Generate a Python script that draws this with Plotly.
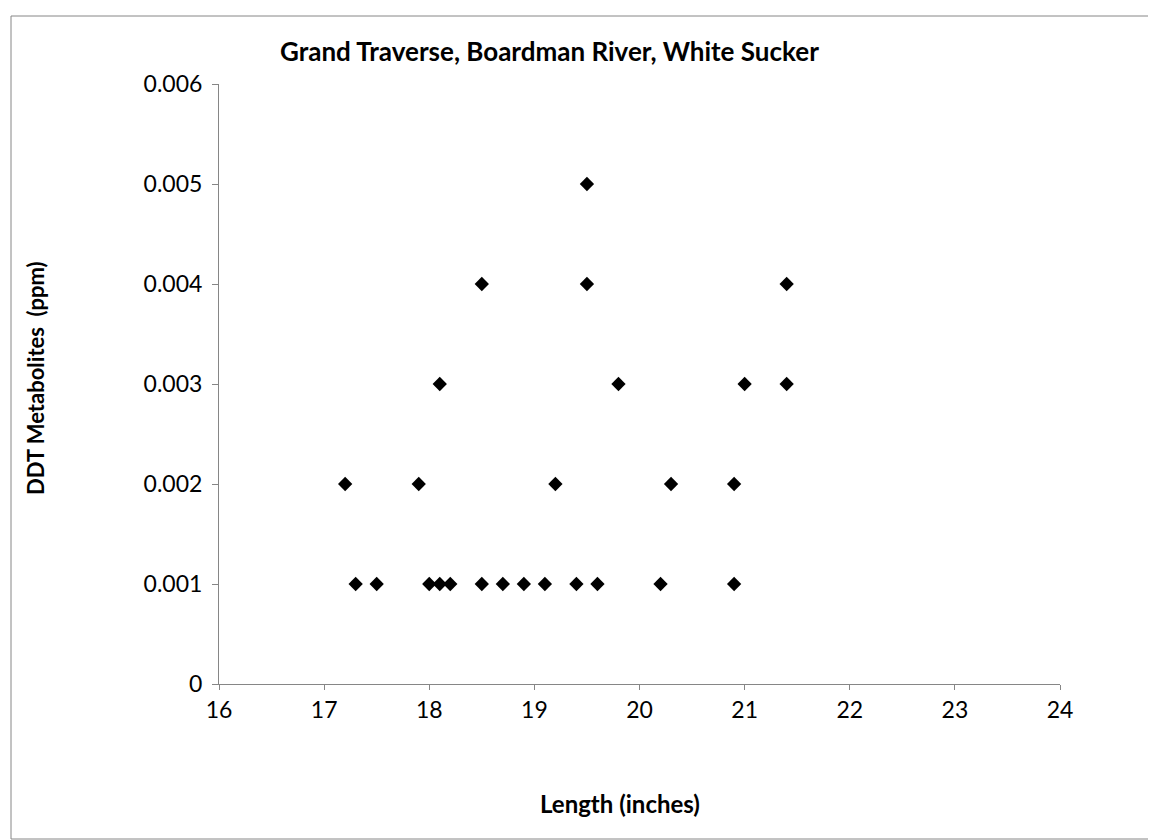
import plotly.graph_objects as go

# ==========================================
# DATA
# ==========================================

length_in = [17.3, 17.5, 18.0, 18.1, 18.2, 18.5, 18.7, 18.9, 19.1, 19.4, 19.6, 20.2, 20.9,
             17.2, 17.9, 19.2, 20.3, 20.9,
             18.1, 19.8, 21.0, 21.4,
             18.5, 19.5, 21.4,
             19.5]

ddt_ppm = [0.001] * 13 + [0.002] * 5 + [0.003] * 4 + [0.004] * 3 + [0.005]

x_ticks = [16, 17, 18, 19, 20, 21, 22, 23, 24]
y_ticks = [0, 0.001, 0.002, 0.003, 0.004, 0.005, 0.006]
y_tick_labels = ["0", "0.001", "0.002", "0.003", "0.004", "0.005", "0.006"]

title_text = "Grand Traverse, Boardman River, White Sucker"
x_title = "Length (inches)"
y_title = "DDT Metabolites  (ppm)"

axis_grey = "#868686"
font_name = "Lato, Open Sans, sans-serif"

# ==========================================
# FIGURE
# ==========================================

fig = go.Figure(go.Scatter(
    x=length_in,
    y=ddt_ppm,
    mode="markers",
    marker=dict(symbol="diamond", size=11, color="black"),
    showlegend=False,
))

fig.update_layout(
    width=1156,
    height=840,
    margin=dict(l=211, r=104, t=76, b=164),
    paper_bgcolor="white",
    plot_bgcolor="white",
    font=dict(family=font_name, size=23, color="black"),
    title=dict(
        text="<b>" + title_text + "</b>",
        x=272 / 1156, xanchor="left",
        y=1 - 44 / 840, yanchor="middle",
        font=dict(size=26),
    ),
)

fig.update_xaxes(
    range=[16, 24],
    tickvals=x_ticks,
    showgrid=False, zeroline=False,
    showline=True, linecolor=axis_grey, linewidth=1,
    ticks="outside", ticklen=5, tickcolor=axis_grey,
)

fig.update_yaxes(
    range=[0, 0.006],
    tickvals=y_ticks,
    ticktext=y_tick_labels,
    showgrid=False, zeroline=False,
    showline=True, linecolor=axis_grey, linewidth=1,
    ticks="outside", ticklen=6, tickcolor=axis_grey,
    ticklabelstandoff=5,
)

# axis titles placed as annotations
fig.add_annotation(
    text="<b>" + x_title + "</b>", xref="paper", yref="paper",
    x=(530 - 211) / 841, y=(676 - 795) / 600, showarrow=False,
    xanchor="left", yanchor="middle", font=dict(size=24),
)
fig.add_annotation(
    text="<b>" + y_title + "</b>", xref="paper", yref="paper",
    x=(27 - 211) / 841, y=0.51, textangle=-90, showarrow=False,
    xanchor="center", yanchor="middle", font=dict(size=22),
)

# chart border
fig.add_shape(
    type="rect", xref="paper", yref="paper",
    x0=(3 - 211) / 841, x1=(1154 - 211) / 841,
    y0=(676 - 831) / 600, y1=(676 - 8) / 600,
    line=dict(color=axis_grey, width=1),
)

fig.write_html("out.html")
